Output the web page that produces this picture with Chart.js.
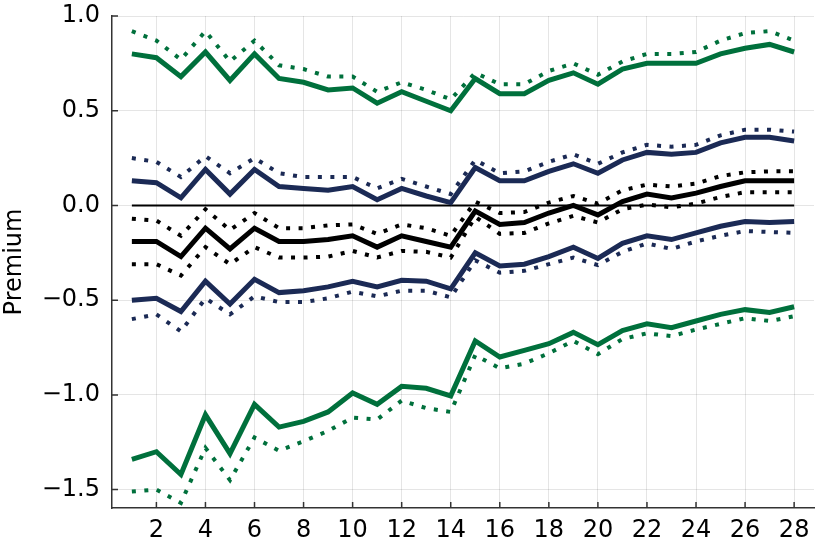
<!DOCTYPE html>
<html>
<head>
<meta charset="utf-8">
<script src="https://cdn.jsdelivr.net/npm/chart.js@4.4.1/dist/chart.umd.min.js"></script>
<style>
  html, body { margin: 0; padding: 0; background: #fff; }
  #wrap { width: 830px; height: 554px; }
</style>
</head>
<body>
<div id="wrap"><canvas id="premiumChart"></canvas></div>
<script>
const days = [1,2,3,4,5,6,7,8,9,10,11,12,13,14,15,16,17,18,19,20,21,22,23,24,25,26,27,28];
const xTicks = [2,4,6,8,10,12,14,16,18,20,22,24,26,28];
const yTicks = [-1.5,-1.0,-0.5,0.0,0.5,1.0];

const greenHi = [0.80,0.78,0.68,0.81,0.66,0.80,0.67,0.65,0.61,0.62,0.54,0.60,0.55,0.50,0.67,0.59,0.59,0.66,0.70,0.64,0.72,0.75,0.75,0.75,0.80,0.83,0.85,0.81];
const greenHiDot = [0.92,0.87,0.77,0.92,0.76,0.87,0.74,0.72,0.68,0.68,0.60,0.65,0.61,0.56,0.70,0.64,0.64,0.71,0.75,0.69,0.76,0.80,0.80,0.81,0.87,0.91,0.92,0.87];
const navyHi = [0.13,0.12,0.04,0.19,0.06,0.19,0.10,0.09,0.08,0.10,0.03,0.09,0.05,0.015,0.20,0.13,0.13,0.18,0.22,0.17,0.24,0.28,0.27,0.28,0.33,0.36,0.36,0.34];
const navyHiDot = [0.25,0.23,0.15,0.26,0.17,0.25,0.17,0.15,0.15,0.15,0.09,0.14,0.10,0.06,0.24,0.17,0.18,0.23,0.27,0.22,0.28,0.32,0.31,0.32,0.37,0.40,0.40,0.39];
const mean = [-0.19,-0.19,-0.27,-0.12,-0.23,-0.12,-0.19,-0.19,-0.18,-0.16,-0.22,-0.16,-0.19,-0.22,-0.03,-0.10,-0.09,-0.04,0.00,-0.05,0.02,0.06,0.04,0.065,0.10,0.13,0.13,0.13];
const meanHiDot = [-0.07,-0.08,-0.16,-0.02,-0.13,-0.04,-0.12,-0.12,-0.105,-0.10,-0.15,-0.10,-0.12,-0.16,0.02,-0.04,-0.035,0.015,0.05,0.01,0.08,0.11,0.10,0.115,0.155,0.175,0.18,0.18];
const meanLoDot = [-0.31,-0.31,-0.37,-0.22,-0.31,-0.22,-0.275,-0.275,-0.27,-0.24,-0.275,-0.24,-0.245,-0.275,-0.06,-0.15,-0.145,-0.095,-0.055,-0.09,-0.02,0.005,-0.01,0.01,0.045,0.07,0.07,0.07];
const navyLo = [-0.50,-0.49,-0.56,-0.40,-0.52,-0.39,-0.46,-0.45,-0.43,-0.40,-0.43,-0.395,-0.40,-0.44,-0.25,-0.32,-0.31,-0.27,-0.22,-0.28,-0.20,-0.16,-0.18,-0.145,-0.11,-0.085,-0.09,-0.085];
const navyLoDot = [-0.60,-0.575,-0.665,-0.49,-0.575,-0.48,-0.51,-0.51,-0.49,-0.455,-0.48,-0.45,-0.45,-0.485,-0.29,-0.355,-0.345,-0.31,-0.275,-0.315,-0.245,-0.20,-0.23,-0.19,-0.16,-0.135,-0.14,-0.145];
const greenLo = [-1.34,-1.30,-1.42,-1.105,-1.31,-1.05,-1.17,-1.14,-1.09,-0.99,-1.05,-0.955,-0.965,-1.005,-0.715,-0.80,-0.765,-0.73,-0.67,-0.735,-0.66,-0.625,-0.645,-0.61,-0.575,-0.55,-0.565,-0.535];
const greenLoDot = [-1.51,-1.50,-1.57,-1.28,-1.45,-1.225,-1.295,-1.245,-1.19,-1.12,-1.13,-1.03,-1.07,-1.09,-0.79,-0.86,-0.835,-0.78,-0.715,-0.785,-0.705,-0.675,-0.69,-0.655,-0.625,-0.595,-0.61,-0.585];
const zeroLine = days.map(() => 0);

const GREEN = "#00703c";
const NAVY = "#1b2a55";
const BLACK = "#000000";

function pts(vals) {
  return days.map((d, i) => ({ x: d, y: vals[i] }));
}
function line(vals, color, dotted, width) {
  return {
    data: pts(vals),
    borderColor: color,
    borderWidth: width || (dotted ? 4 : 5),
    borderDash: dotted ? [4, 8.5] : [],
    borderCapStyle: "butt",
    borderJoinStyle: "miter",
    pointRadius: 0,
    tension: 0,
    fill: false,
  };
}

const fmt = (v) => {
  const s = Math.abs(v).toFixed(1);
  return v < 0 ? "\u2212" + s : s;
};

// short ticks that point into the plot, like the reference
const innerTicks = {
  id: "innerTicks",
  afterDraw(chart) {
    const { ctx, chartArea, scales } = chart;
    ctx.save();
    ctx.strokeStyle = "#333";
    ctx.lineWidth = 1.5;
    ctx.beginPath();
    scales.x.ticks.forEach((t) => {
      const px = scales.x.getPixelForValue(t.value);
      ctx.moveTo(px, chartArea.bottom);
      ctx.lineTo(px, chartArea.bottom - 6);
    });
    scales.y.ticks.forEach((t) => {
      const py = scales.y.getPixelForValue(t.value);
      ctx.moveTo(chartArea.left, py);
      ctx.lineTo(chartArea.left + 6, py);
    });
    ctx.stroke();
    ctx.restore();
  },
};

const ctx = document.getElementById("premiumChart").getContext("2d");
new Chart(ctx, {
  type: "line",
  data: {
    datasets: [
      line(mean, BLACK, false),
      line(meanHiDot, BLACK, true),
      line(meanLoDot, BLACK, true),
      line(navyHi, NAVY, false),
      line(navyHiDot, NAVY, true),
      line(navyLo, NAVY, false),
      line(navyLoDot, NAVY, true),
      line(greenHi, GREEN, false),
      line(greenHiDot, GREEN, true),
      line(greenLo, GREEN, false),
      line(greenLoDot, GREEN, true),
      line(zeroLine, BLACK, false, 2),
    ],
  },
  options: {
    animation: false,
    responsive: true,
    maintainAspectRatio: false,
    layout: { padding: { top: 16, right: 16, left: 0, bottom: 0 } },
    plugins: {
      legend: { display: false },
      tooltip: { enabled: false },
    },
    scales: {
      x: {
        type: "linear",
        min: 0.19,
        max: 28.81,
        afterBuildTicks: (s) => { s.ticks = xTicks.map((v) => ({ value: v })); },
        afterFit: (s) => { s.height = 46; s.paddingLeft = 0; s.paddingRight = 0; },
        grid: { color: "rgba(0,0,0,0.1)", lineWidth: 1, drawTicks: false },
        border: { display: true, color: "#333", width: 1.5 },
        ticks: {
          color: "#000",
          padding: 8,
          maxRotation: 0,
          autoSkip: false,
          font: { family: "DejaVu Sans", size: 24 },
        },
      },
      y: {
        type: "linear",
        min: -1.597,
        max: 1.0,
        afterBuildTicks: (s) => { s.ticks = yTicks.map((v) => ({ value: v })); },
        afterFit: (s) => { s.width = 112; s.paddingTop = 0; s.paddingBottom = 0; },
        grid: { color: "rgba(0,0,0,0.1)", lineWidth: 1, drawTicks: false },
        border: { display: true, color: "#333", width: 1.5 },
        title: {
          display: true,
          text: "Premium",
          color: "#000",
          padding: { top: 0, bottom: 4 },
          font: { family: "DejaVu Sans", size: 24 },
        },
        ticks: {
          color: "#000",
          padding: 12,
          autoSkip: false,
          callback: (v) => fmt(v),
          font: { family: "DejaVu Sans", size: 24 },
        },
      },
    },
  },
  plugins: [innerTicks],
});
</script>
</body>
</html>
